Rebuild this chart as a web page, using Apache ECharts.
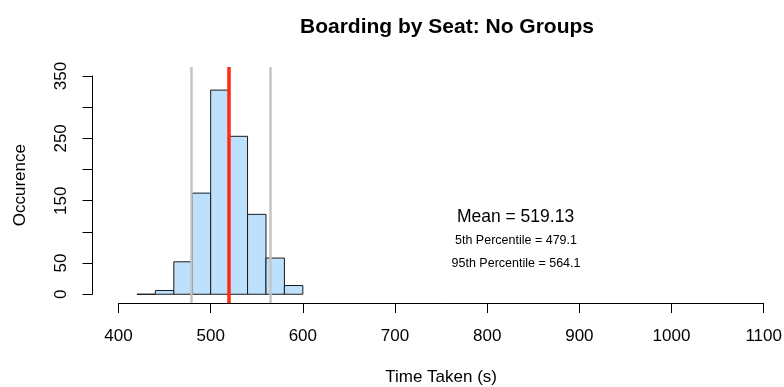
<!DOCTYPE html>
<html>
<head>
<meta charset="utf-8">
<script src="https://cdn.jsdelivr.net/npm/echarts@6/dist/echarts.min.js"></script>
<style>
  html, body { margin: 0; padding: 0; background: #ffffff; }
  #chart { width: 784px; height: 387px; }
</style>
</head>
<body>
<div id="chart"></div>
<script>
// Histogram bins (seconds) and their counts
const binStarts = [420, 440, 460, 480, 500, 520, 540, 560, 580];
const binWidth = 20;
const counts = [0, 6, 52, 162, 327, 253, 128, 58, 14];

// Summary statistics drawn as vertical reference lines
const meanValue = 519.13;
const p5Value = 479.1;
const p95Value = 564.1;

// Axis ticks
const xTicks = [400, 500, 600, 700, 800, 900, 1000, 1100];
const yTicks = [0, 50, 100, 150, 200, 250, 300, 350];
const yTickLabels = ['0', '50', '', '150', '', '250', '', '350'];

const FONT = '"Liberation Sans", Arial, Helvetica, sans-serif';

const histData = binStarts.map((s, i) => [s, s + binWidth, counts[i]]);

const chart = echarts.init(document.getElementById('chart'), null, { renderer: 'canvas' });

chart.setOption({
  animation: false,
  backgroundColor: '#ffffff',
  title: {
    text: 'Boarding by Seat: No Groups',
    left: 442,
    top: 12,
    textAlign: 'center',
    textStyle: { fontFamily: FONT, fontSize: 21, fontWeight: 'bold', color: '#000' }
  },
  grid: [
    // plotting region: x spans 400..1100 between the outer ticks, y spans the full plot height
    { left: 118.5, right: 20.3, top: 67, bottom: 84, containLabel: false, outerBoundsMode: 'none' },
    // grid that carries the y axis (0..350)
    { left: 92.5, width: 10, top: 76, bottom: 92.7, containLabel: false, outerBoundsMode: 'none' }
  ],
  xAxis: [
    {
      type: 'value', gridIndex: 0,
      min: xTicks[0], max: xTicks[xTicks.length - 1], interval: 100,
      axisLine: { show: true, onZero: false, lineStyle: { color: '#000', width: 1 } },
      axisTick: { show: true, length: 10, lineStyle: { color: '#000' } },
      axisLabel: {
        show: true, fontFamily: FONT, fontSize: 17, color: '#000', margin: 25,
        formatter: (v) => String(v)
      },
      splitLine: { show: false },
      name: 'Time Taken (s)',
      nameLocation: 'middle',
      nameGap: 66,
      nameTextStyle: { fontFamily: FONT, fontSize: 17, color: '#000' }
    },
    {
      type: 'value', gridIndex: 1, min: 0, max: 1, show: false
    }
  ],
  yAxis: [
    {
      type: 'value', gridIndex: 0,
      min: -14, max: 364,
      show: false
    },
    {
      type: 'value', gridIndex: 1,
      min: yTicks[0], max: yTicks[yTicks.length - 1], interval: 50,
      position: 'left',
      axisLine: { show: true, onZero: false, lineStyle: { color: '#000', width: 1 } },
      axisTick: { show: true, length: 10, lineStyle: { color: '#000' } },
      axisLabel: {
        show: true, rotate: 90, fontFamily: FONT, fontSize: 17, color: '#000', margin: 31,
        verticalAlign: 'middle',
        formatter: (v) => {
          const idx = yTicks.indexOf(v);
          return idx >= 0 ? yTickLabels[idx] : '';
        }
      },
      splitLine: { show: false },
      name: 'Occurence',
      nameLocation: 'middle',
      nameGap: 64,
      nameRotate: 90,
      nameTextStyle: { fontFamily: FONT, fontSize: 17, color: '#000' }
    }
  ],
  series: [
    {
      type: 'custom',
      xAxisIndex: 0, yAxisIndex: 0,
      data: histData,
      renderItem: function (params, api) {
        const p0 = api.coord([api.value(0), api.value(2)]);
        const p1 = api.coord([api.value(1), 0]);
        return {
          type: 'rect',
          shape: { x: p0[0], y: p0[1], width: p1[0] - p0[0], height: p1[1] - p0[1] },
          style: { fill: '#bde0fd', stroke: '#1a1a1a', lineWidth: 1 }
        };
      },
      encode: { x: [0, 1], y: 2 },
      z: 2
    },
    {
      type: 'line',
      xAxisIndex: 0, yAxisIndex: 0,
      data: [],
      silent: true,
      markLine: {
        silent: true,
        symbol: 'none',
        label: { show: false },
        data: [
          { xAxis: p5Value, lineStyle: { color: '#c4c4c4', width: 2.5, type: 'solid' } },
          { xAxis: p95Value, lineStyle: { color: '#c4c4c4', width: 2.5, type: 'solid' } },
          { xAxis: meanValue, lineStyle: { color: '#ff2a12', width: 3.5, type: 'solid' } }
        ]
      },
      z: 3
    }
  ],
  // Annotation text for the summary statistics
  graphic: [
    {
      type: 'text', x: 515.5, y: 217,
      style: {
        text: 'Mean = ' + meanValue.toFixed(2),
        font: '17.5px ' + FONT, fill: '#000', align: 'center', verticalAlign: 'middle'
      }
    },
    {
      type: 'text', x: 516, y: 240.5,
      style: {
        text: '5th Percentile = ' + p5Value.toFixed(1),
        font: '12.5px ' + FONT, fill: '#000', align: 'center', verticalAlign: 'middle'
      }
    },
    {
      type: 'text', x: 516, y: 263.5,
      style: {
        text: '95th Percentile = ' + p95Value.toFixed(1),
        font: '12.5px ' + FONT, fill: '#000', align: 'center', verticalAlign: 'middle'
      }
    }
  ]
});
</script>
</body>
</html>
